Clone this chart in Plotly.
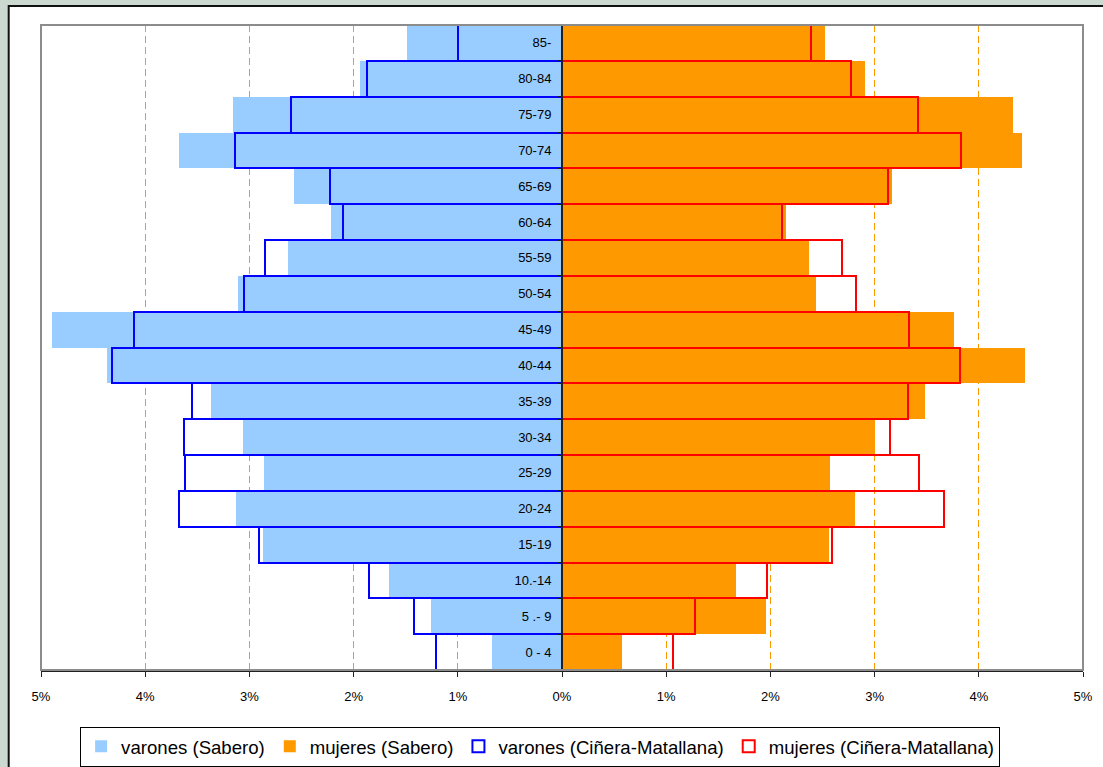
import plotly.graph_objects as go

################################################################################
# Data (percent of total population), bottom age group first
################################################################################

edades = ['0 - 4', '5 .- 9', '10.-14', '15-19', '20-24', '25-29', '30-34',
          '35-39', '40-44', '45-49', '50-54', '55-59', '60-64', '65-69',
          '70-74', '75-79', '80-84', '85-']

varones_sabero = [0.67, 1.26, 1.66, 2.87, 3.13, 2.86, 3.06, 3.37, 4.37, 4.89,
                  3.11, 2.63, 2.22, 2.57, 3.68, 3.16, 1.94, 1.49]
mujeres_sabero = [0.58, 1.96, 1.67, 2.56, 2.81, 2.57, 3.00, 3.48, 4.44, 3.76,
                  2.44, 2.37, 2.15, 3.17, 4.41, 4.33, 2.91, 2.52]
varones_cinera = [1.21, 1.42, 1.85, 2.91, 3.68, 3.62, 3.63, 3.55, 4.32, 4.11,
                  3.05, 2.85, 2.10, 2.23, 3.14, 2.60, 1.87, 1.00]
mujeres_cinera = [1.07, 1.28, 1.97, 2.59, 3.67, 3.43, 3.15, 3.32, 3.82, 3.33,
                  2.82, 2.69, 2.11, 3.13, 3.83, 3.42, 2.77, 2.39]

x_ticks = [-5, -4, -3, -2, -1, 0, 1, 2, 3, 4, 5]
x_labels = ['5%', '4%', '3%', '2%', '1%', '0%', '1%', '2%', '3%', '4%', '5%']

################################################################################
# Figure
################################################################################

fig = go.Figure()

# Filled bars (Sabero)
fig.add_trace(go.Bar(y=edades, x=[-v for v in varones_sabero], orientation='h',
                     name='varones (Sabero)',
                     marker=dict(color='#99CCFF', line=dict(width=0))))
fig.add_trace(go.Bar(y=edades, x=mujeres_sabero, orientation='h',
                     name='mujeres (Sabero)',
                     marker=dict(color='#FF9900', line=dict(width=0))))

# Outlined bars (Ciñera-Matallana)
fig.add_trace(go.Bar(y=edades, x=[-v for v in varones_cinera], orientation='h',
                     name='varones (Ciñera-Matallana)',
                     marker=dict(color='rgba(0,0,0,0)',
                                 line=dict(color='#0000FF', width=2))))
fig.add_trace(go.Bar(y=edades, x=mujeres_cinera, orientation='h',
                     name='mujeres (Ciñera-Matallana)',
                     marker=dict(color='rgba(0,0,0,0)',
                                 line=dict(color='#FF0000', width=2))))

fig.update_layout(
    width=1103, height=767,
    barmode='overlay', bargap=0,
    paper_bgcolor='#CCD9D1', plot_bgcolor='white',
    margin=dict(l=41, r=20, t=25, b=97, autoexpand=False),
    font=dict(family='Arial, Liberation Sans, sans-serif', size=13, color='black'),
    showlegend=True,
    legend=dict(orientation='h', x=0.479, xanchor='center',
                yref='container', y=0.0525, yanchor='top',
                bgcolor='white', bordercolor='black', borderwidth=1,
                font=dict(size=18.6), itemwidth=30, tracegroupgap=0),
)

# x axis: percentages shown as absolute values
fig.update_xaxes(range=[-5, 5], tickmode='array', tickvals=x_ticks, ticktext=x_labels,
                 showgrid=True, gridcolor='#FF9900', gridwidth=1, griddash='7px,4px',
                 zeroline=False, showline=True, linecolor='#202020', linewidth=2,
                 ticks='outside', ticklen=5, tickcolor='#202020', tickwidth=1,
                 ticklabelstandoff=8, tickfont=dict(size=13))

# y axis sits on the zero line, labels to its left
fig.update_yaxes(type='category', categoryorder='array', categoryarray=edades,
                 range=[-0.5, len(edades) - 0.5],
                 anchor='free', position=0.5, side='left',
                 showline=True, linecolor='#202020', linewidth=2,
                 ticks='outside', tickson='boundaries', ticklen=4,
                 tickcolor='#202020', ticklabelstandoff=7,
                 showgrid=False, zeroline=False, tickfont=dict(size=13))

# White chart area with black frame, and gray plot frame
fig.add_shape(type='rect', xref='paper', yref='paper', layer='below',
              x0=-0.031, x1=1.1, y0=-0.3, y1=1.0295,
              fillcolor='white', line=dict(color='#111111', width=2))
fig.add_shape(type='rect', xref='paper', yref='paper', layer='above',
              x0=0, x1=1, y0=0, y1=1,
              line=dict(color='#8C8C8C', width=2))

# Page body margin would shift the figure by 8px
fig.write_html('out.html', config={'displayModeBar': False},
               post_script="document.body.style.margin='0';"
                           "document.body.style.background='#CCD9D1';")
